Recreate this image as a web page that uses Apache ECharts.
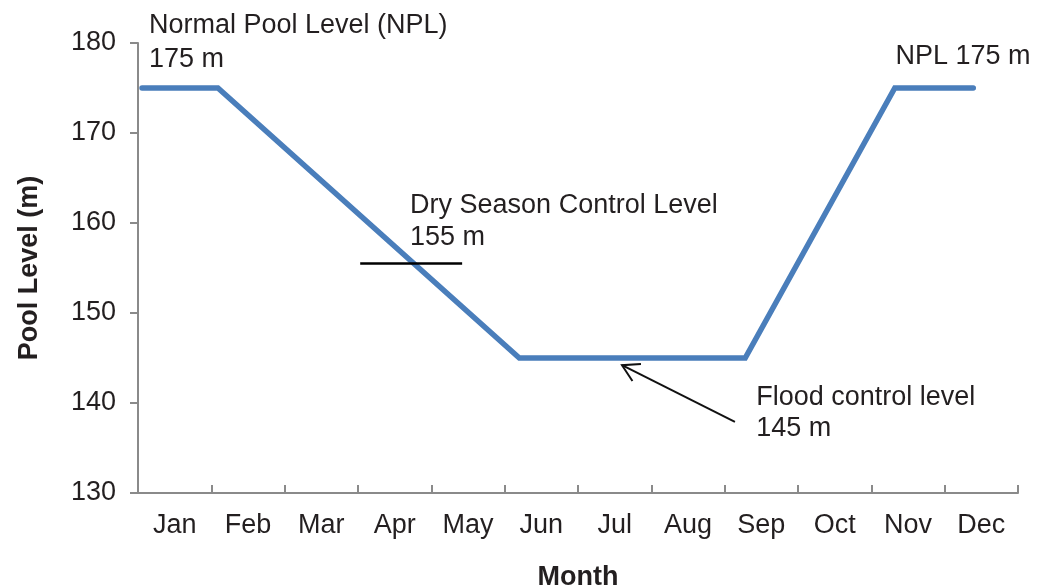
<!DOCTYPE html>
<html>
<head>
<meta charset="utf-8">
<script src="https://cdn.jsdelivr.net/npm/echarts@6/dist/echarts.min.js"></script>
<style>
html,body{margin:0;padding:0;background:#fff;}
#chart{width:1045px;height:588px;}
</style>
</head>
<body>
<div id="chart"></div>
<script>
// ---- data ----
const months = ['Jan','Feb','Mar','Apr','May','Jun','Jul','Aug','Sep','Oct','Nov','Dec'];
const yTicks = [130, 140, 150, 160, 170, 180];
// position along the year in month units (0 = start of Jan, 12 = end of Dec)
const linePos = [0.055, 1.09, 5.2, 8.28, 10.32, 11.39];
const lineLevel = [175, 175, 145, 145, 175, 175];
// dry season control marker
const dryMarkStart = [3.03, 155.5];
const dryMarkEnd = [4.42, 155.5];
// annotation texts: [label, monthPos, level]
const annoText = ['Normal Pool Level (NPL)', '175 m', 'NPL 175 m', 'Dry Season Control Level', '155 m', 'Flood control level', '145 m'];
const annoX = [0.15, 0.15, 10.33, 3.71, 3.71, 8.43, 8.43];
const annoY = [181.9, 178.2, 178.55, 161.9, 158.4, 140.6, 137.2];
// arrow: tip and tail
const arrowTip = [6.6, 144.2];
const arrowTail = [8.14, 137.9];

const FONT = '"Liberation Sans", Arial, Helvetica, sans-serif';
const TXT = '#231f20';
const AX = '#8a8a8a';
const FS = 27;

const chart = echarts.init(document.getElementById('chart'), null, {renderer: 'canvas'});
const option = {
  backgroundColor: '#fff',
  animation: false,
  textStyle: {fontFamily: FONT},
  grid: {left: 138, right: 27, top: 43, bottom: 95, containLabel: false, outerBoundsMode: 'none'},
  xAxis: [{
    type: 'category',
    data: months,
    boundaryGap: true,
    axisLine: {show: true, lineStyle: {color: AX, width: 2}},
    axisTick: {show: true, inside: true, length: 8, lineStyle: {color: AX, width: 2}},
    axisLabel: {fontSize: FS, color: TXT, margin: 19, fontFamily: FONT},
    splitLine: {show: false},
    name: 'Month',
    nameLocation: 'middle',
    nameGap: 71,
    nameTextStyle: {fontSize: FS, fontWeight: 'bold', color: TXT, fontFamily: FONT}
  }, {
    type: 'value',
    min: 0, max: 12,
    show: false
  }],
  yAxis: {
    type: 'value',
    min: yTicks[0], max: yTicks[yTicks.length - 1], interval: 10,
    axisLine: {show: true, lineStyle: {color: AX, width: 2}},
    axisTick: {show: true, length: 8, lineStyle: {color: AX, width: 2}},
    axisLabel: {fontSize: FS, color: TXT, margin: 22, fontFamily: FONT},
    splitLine: {show: false},
    name: 'Pool Level (m)',
    nameLocation: 'middle',
    nameGap: 95,
    nameTextStyle: {fontSize: FS, fontWeight: 'bold', color: TXT, fontFamily: FONT}
  },
  series: [{
    type: 'line',
    xAxisIndex: 1,
    data: linePos.map((x, i) => [x, lineLevel[i]]),
    symbol: 'none',
    lineStyle: {color: '#4a7ebb', width: 5.5, cap: 'round', join: 'miter'},
    markLine: {
      silent: true,
      symbol: ['none', 'none'],
      label: {show: false},
      lineStyle: {color: '#000', width: 2.5, type: 'solid'},
      data: [[{coord: dryMarkStart}, {coord: dryMarkEnd}]]
    }
  }]
};
chart.setOption(option);

function px(p) { return chart.convertToPixel({xAxisIndex: 1, yAxisIndex: 0}, p); }

const graphics = [];
annoText.forEach((t, i) => {
  const p = px([annoX[i], annoY[i]]);
  graphics.push({
    type: 'text', x: p[0], y: p[1],
    style: {text: t, fontSize: FS, fill: TXT, fontFamily: FONT, align: 'left', verticalAlign: 'middle'}
  });
});
const tip = px(arrowTip), tail = px(arrowTail);
const ang = Math.atan2(tail[1] - tip[1], tail[0] - tip[0]);
const armLen = 19, spread = Math.PI / 6;
const a1 = [tip[0] + armLen * Math.cos(ang - spread), tip[1] + armLen * Math.sin(ang - spread)];
const a2 = [tip[0] + armLen * Math.cos(ang + spread), tip[1] + armLen * Math.sin(ang + spread)];
graphics.push({type: 'line', shape: {x1: tail[0], y1: tail[1], x2: tip[0], y2: tip[1]}, style: {stroke: '#111', lineWidth: 2}});
graphics.push({type: 'polyline', shape: {points: [a1, tip, a2]}, style: {stroke: '#111', lineWidth: 2, fill: null}});
chart.setOption({graphic: graphics});
</script>
</body>
</html>
